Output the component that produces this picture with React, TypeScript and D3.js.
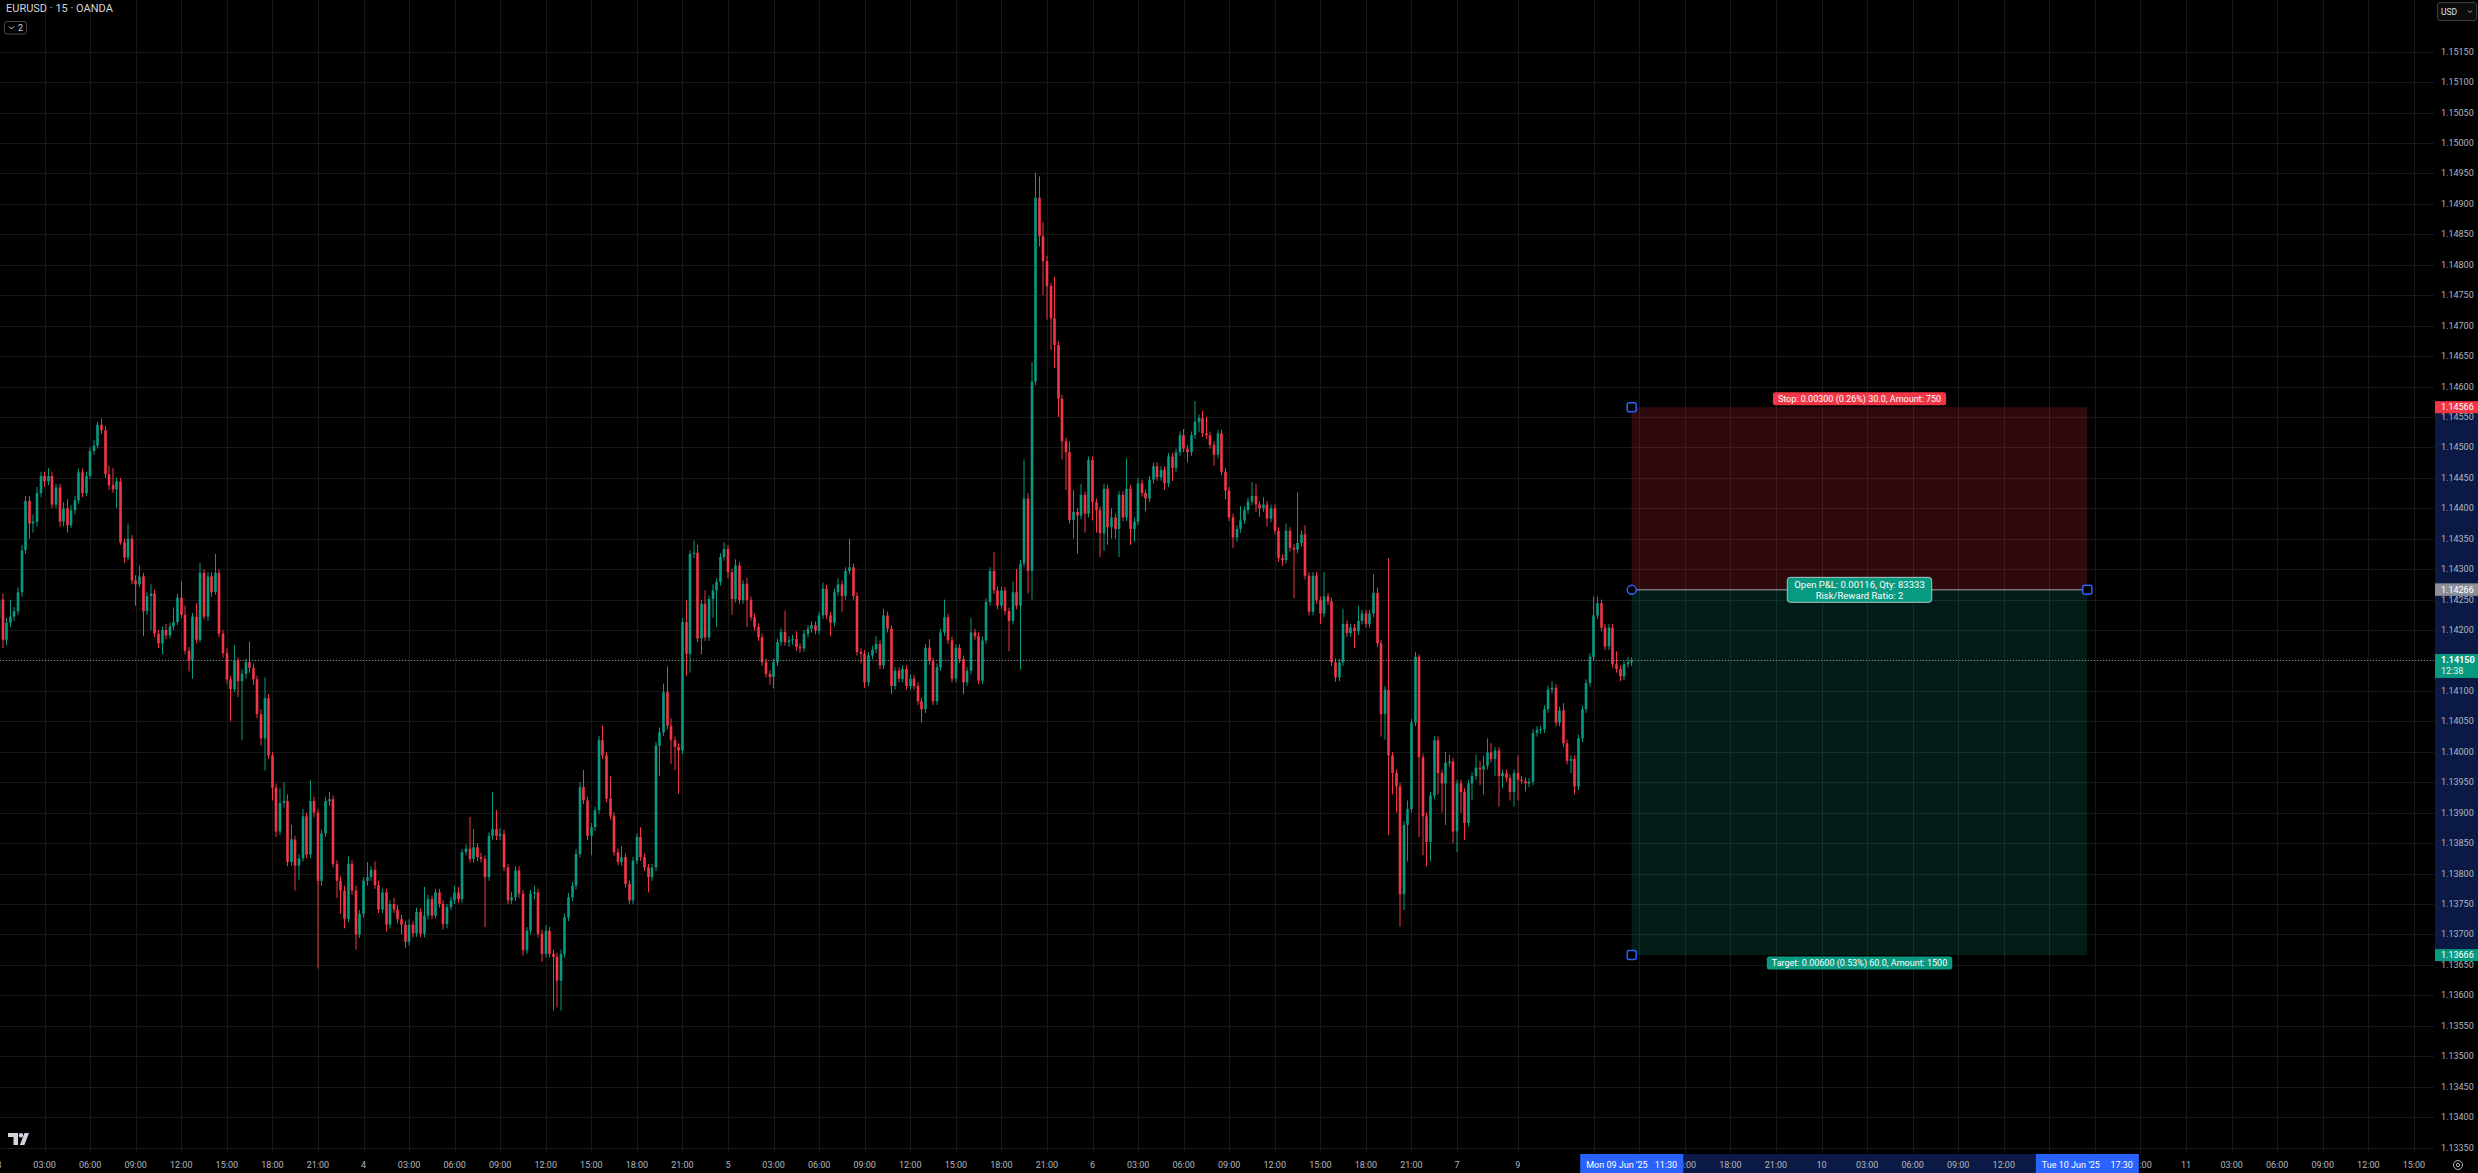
import React from "react";
import * as d3 from "d3";

// ---------- DATA ----------
const SYMBOL_TITLE = "EURUSD · 15 · OANDA";
const CURRENCY = "USD";

// Candles (15 min bars) from Tue 3 Jun 00:00. Values are in "pips": price = 1 + v / 10000
// rows are [open, high, low, close]
const CANDLES: number[][] = [
[1422,1425.5,1421,1425],[1425,1426,1417,1418.4],[1418.4,1422,1417.5,1421.2],[1421.2,1425,1420.5,1422.2],[1422.2,1423.8,1421.5,1423.1],
[1423.1,1427,1422.5,1426.2],[1426.2,1434,1425.5,1433.1],[1433.1,1442,1432.5,1441.2],[1441.2,1442,1435,1437.5],[1437.5,1439,1436,1437.8],
[1437.8,1443.5,1437,1442.5],[1442.5,1446,1441.8,1445.3],[1445.3,1446,1443.5,1444.4],[1444.4,1446.6,1443.8,1445.3],[1445.3,1446,1440,1440.6],
[1440.6,1444,1440,1443.4],[1443.4,1444,1437,1437.8],[1437.8,1441,1437,1440],[1440,1441.5,1436,1437.2],[1437.2,1440.5,1436.8,1439.7],
[1439.7,1442,1439,1441.3],[1441.3,1446.5,1440.8,1445.9],[1445.9,1446.5,1441.8,1442.5],[1442.5,1446,1442,1445.3],[1445.3,1450,1444.8,1449.4],
[1449.4,1451.2,1448.8,1450.3],[1450.3,1454.2,1449.8,1453.7],[1453.7,1454.7,1452.2,1452.8],[1452.8,1453.5,1445,1445.6],[1445.6,1447,1443,1443.8],
[1443.8,1446.6,1442.5,1443.1],[1443.1,1445,1440,1444.4],[1444.4,1445,1434,1434.4],[1434.4,1435,1431,1431.9],[1431.9,1437.5,1431.5,1435],
[1435,1435.6,1427.5,1428.1],[1428.1,1429,1424,1427.5],[1427.5,1430.6,1427,1428.8],[1428.8,1429.4,1419,1423.1],[1423.1,1426.2,1422.5,1425.6],
[1425.6,1427.5,1420,1426],[1426,1426.6,1418.8,1419.4],[1419.4,1420,1417,1417.8],[1417.8,1420.6,1416,1420],[1420,1421,1418.5,1419.1],
[1419.1,1421.2,1418.6,1420.6],[1420.6,1423.7,1420,1421.3],[1421.3,1426,1420.8,1425.3],[1425.3,1428.1,1422,1422.5],[1422.5,1424,1416,1416.6],
[1416.6,1417.2,1413.2,1415],[1415,1422.8,1412,1422.2],[1422.2,1424.4,1417.8,1418.4],[1418.4,1431,1418,1429.4],[1429.4,1430,1421.8,1422.2],
[1422.2,1429.5,1421.5,1428.8],[1428.8,1429.5,1425.5,1426.2],[1426.2,1432.5,1425.8,1429.4],[1429.4,1430,1418.8,1419.4],[1419.4,1420,1415.5,1416.2],
[1416.2,1417,1411.2,1411.9],[1411.9,1412.5,1405,1410.3],[1410.3,1417.5,1409.8,1415],[1415,1415.5,1409,1411.6],[1411.6,1413.5,1401.9,1412.8],
[1412.8,1415.3,1412,1414.7],[1414.7,1418.1,1413,1413.8],[1413.8,1414.5,1411,1411.9],[1411.9,1412.5,1405.5,1406.2],[1406.2,1407,1401,1402.2],
[1402.2,1412.2,1396.9,1408.8],[1408.8,1409.5,1398.8,1399.4],[1399.4,1400,1392,1394.1],[1394.1,1394.8,1386,1386.9],[1386.9,1394,1386.3,1391.6],
[1391.6,1395,1390.8,1391.9],[1391.9,1393,1381.2,1381.9],[1381.9,1388,1381.3,1385.6],[1385.6,1386.2,1377.2,1381.3],[1381.3,1383.2,1379,1382.5],
[1382.5,1390.6,1382,1389.4],[1389.4,1390,1382.5,1383.1],[1383.1,1395.3,1382.5,1391.9],[1391.9,1392.6,1389.2,1390],[1390,1390.6,1364.4,1378.8],
[1378.8,1387.2,1378,1386.6],[1386.6,1392.5,1386,1391.9],[1391.9,1393.4,1391.2,1392.2],[1392.2,1392.8,1381,1381.6],[1381.6,1382.2,1376,1378.8],
[1378.8,1379.5,1373.4,1377.2],[1377.2,1378,1371,1372.5],[1372.5,1382.8,1372,1381.6],[1381.6,1382.2,1376.5,1377.2],[1377.2,1378,1367.5,1370],
[1370,1374,1369.4,1373.4],[1373.4,1379.4,1372.8,1378.8],[1378.8,1381.9,1378,1379.4],[1379.4,1381.2,1378.8,1380.6],[1380.6,1382,1377.5,1378.1],
[1378.1,1378.8,1373.5,1374.1],[1374.1,1377.5,1373.5,1376.9],[1376.9,1377.5,1370.5,1371.6],[1371.6,1375.6,1371,1375],[1375,1376,1373.5,1374.1],
[1374.1,1374.8,1371.8,1372.5],[1372.5,1373.2,1370,1371.6],[1371.6,1372.2,1367.8,1368.8],[1368.8,1372.5,1368.2,1371.6],[1371.6,1372.2,1369.5,1370.2],
[1370.2,1374.4,1369.6,1373.7],[1373.7,1374.3,1369.5,1370.1],[1370.1,1377.8,1369.5,1373.1],[1373.1,1376.5,1372.5,1375.8],[1375.8,1376.4,1372.5,1373.1],
[1373.1,1377.5,1372.6,1376.9],[1376.9,1377.5,1374.4,1375],[1375,1375.6,1370.8,1371.7],[1371.7,1375,1371,1374.5],[1374.5,1376.2,1374,1375.6],
[1375.6,1378,1375,1376.9],[1376.9,1377.8,1375.2,1375.8],[1375.8,1384,1375.2,1383.5],[1383.5,1384.8,1383,1384.1],[1384.1,1389.3,1381.8,1382.4],
[1382.4,1387.3,1381.8,1384.3],[1384.3,1385,1382,1382.7],[1382.7,1383.4,1381.8,1382.4],[1382.4,1383,1371.2,1379.4],[1379.4,1386.8,1378.8,1386.2],
[1386.2,1393.4,1385.6,1387.3],[1387.3,1390.4,1385.5,1386.2],[1386.2,1387.4,1385.5,1386.5],[1386.5,1387.2,1380.4,1381],[1381,1381.6,1375,1375.6],
[1375.6,1377,1375,1376.1],[1376.1,1381.2,1375.5,1380.5],[1380.5,1381.2,1376,1376.7],[1376.7,1377.3,1366.5,1367.4],[1367.4,1371.2,1366.8,1370.6],
[1370.6,1377.3,1370,1376.7],[1376.7,1378,1375.8,1376.9],[1376.9,1377.5,1369.5,1370.1],[1370.1,1370.8,1365.5,1366.8],[1366.8,1371.5,1366.2,1370.6],
[1370.6,1371.2,1366.2,1366.8],[1366.8,1367.5,1357.5,1366.3],[1366.3,1367,1358,1362.4],[1362.4,1367.5,1357.5,1366.8],[1366.8,1373.4,1366.2,1372.8],
[1372.8,1376.8,1372.2,1376.1],[1376.1,1378.6,1375.5,1378],[1378,1384,1377.4,1383.2],[1383.2,1395,1382.6,1394.2],[1394.2,1397,1391.4,1392],
[1392,1392.6,1385.5,1386.2],[1386.2,1388.3,1383,1387.6],[1387.6,1391,1387,1390.4],[1390.4,1402.6,1389.8,1401.9],[1401.9,1404.3,1398.8,1399.4],
[1399.4,1400,1391.7,1392.3],[1392.3,1396,1388.9,1389.5],[1389.5,1390.1,1382.9,1383.5],[1383.5,1384.1,1381.3,1381.9],[1381.9,1384.5,1381.3,1382.7],
[1382.7,1383.3,1377.7,1378.3],[1378.3,1378.9,1375,1375.6],[1375.6,1382.7,1375,1382.1],[1382.1,1386.6,1381.5,1386],[1386,1387.6,1382.1,1382.7],
[1382.7,1383.3,1380.4,1381],[1381,1381.6,1376.9,1379.4],[1379.4,1381.6,1378.8,1381],[1381,1401.6,1380.4,1401],[1401,1404,1396,1403.2],
[1403.2,1411.2,1402.6,1409.8],[1409.8,1414,1403.7,1404.3],[1404.3,1405.5,1398,1401.9],[1401.9,1402.5,1397,1400.8],[1400.8,1401.4,1393.1,1400.2],
[1400.2,1422,1399.6,1421.3],[1421.3,1424.9,1412.5,1416.1],[1416.1,1433.1,1413,1432.5],[1432.5,1434.7,1431.8,1432.7],[1432.7,1434,1418,1418.6],
[1418.6,1425,1416,1424.3],[1424.3,1426.5,1418.2,1418.8],[1418.8,1425.7,1418.2,1425.1],[1425.1,1427.5,1422,1426.5],[1426.5,1428.5,1420.5,1427.9],
[1427.9,1432.6,1427.3,1432],[1432,1434.4,1431.4,1433.3],[1433.3,1433.9,1428.5,1429.5],[1429.5,1430.1,1422.5,1425.1],[1425.1,1431.6,1424.5,1430.6],
[1430.6,1431.2,1424.3,1424.9],[1424.9,1428.2,1424.3,1427.6],[1427.6,1428.6,1420.5,1424.9],[1424.9,1425.5,1421.5,1422.1],[1422.1,1422.7,1419.9,1420.5],
[1420.5,1421.1,1418.2,1418.8],[1418.8,1419.4,1414.1,1414.7],[1414.7,1415.3,1412.2,1412.8],[1412.8,1413.4,1411,1412.3],[1412.3,1415.3,1410.4,1414.7],
[1414.7,1418.6,1414.1,1418],[1418,1420.3,1417.4,1419.7],[1419.7,1423.2,1417.4,1418],[1418,1419,1417.2,1418.3],[1418.3,1419.2,1417.6,1418.5],
[1418.5,1419.8,1416.6,1417.2],[1417.2,1417.8,1416.3,1417],[1417,1420,1416.4,1419.4],[1419.4,1420.8,1418.8,1420.2],[1420.2,1421.4,1419.6,1420.8],
[1420.8,1421.4,1419.3,1419.9],[1419.9,1423,1419.3,1422.4],[1422.4,1427.8,1421.8,1426.8],[1426.8,1427.4,1421.8,1422.4],[1422.4,1423,1419,1421.2],
[1421.2,1426.8,1420.6,1426.2],[1426.2,1428.5,1425.6,1427.5],[1427.5,1428.1,1423,1425.6],[1425.6,1430.3,1425,1429.7],[1429.7,1435,1429.1,1430.3],
[1430.3,1430.9,1425,1425.6],[1425.6,1426.2,1415.8,1416.4],[1416.4,1417,1414.5,1416.1],[1416.1,1416.7,1410.5,1411.4],[1411.4,1416.4,1410.8,1415.8],
[1415.8,1417.4,1415.2,1416.8],[1416.8,1419,1416.2,1417.7],[1417.7,1418.3,1413.6,1414.2],[1414.2,1423.5,1413.6,1422.4],[1422.4,1423,1419.6,1420.2],
[1420.2,1420.8,1409.5,1410.8],[1410.8,1413.9,1410.2,1413.3],[1413.3,1413.9,1411.4,1412],[1412,1414.2,1411.4,1413.6],[1413.6,1414.2,1410.2,1410.8],
[1410.8,1412.6,1410.2,1412],[1412,1412.6,1410.2,1410.8],[1410.8,1411.4,1407.7,1408.3],[1408.3,1408.9,1404.8,1407],[1407,1417.7,1406.4,1417.1],
[1417.1,1418.5,1414.3,1414.9],[1414.9,1415.5,1407.7,1408.3],[1408.3,1414.5,1407.7,1413.9],[1413.9,1420.2,1413.3,1419.6],[1419.6,1425,1419,1422.1],
[1422.1,1422.7,1417.7,1418.3],[1418.3,1418.9,1411.4,1412],[1412,1417.7,1411.4,1417.1],[1417.1,1417.7,1414.6,1415.2],[1415.2,1415.8,1409.5,1411.4],
[1411.4,1413.9,1410.8,1413.3],[1413.3,1422,1412.7,1419.6],[1419.6,1420.2,1418.4,1419],[1419,1419.6,1411.1,1411.7],[1411.7,1418.9,1411.1,1418.3],
[1418.3,1425.2,1417.7,1424.6],[1424.6,1430.3,1424,1429.7],[1429.7,1432.8,1425.9,1426.5],[1426.5,1427.1,1423.4,1424],[1424,1427.1,1423.4,1426.5],
[1426.5,1427.1,1422.5,1423.1],[1423.1,1423.7,1416.5,1421.5],[1421.5,1428,1420.9,1426.2],[1426.2,1430,1423.4,1424],[1424,1431.5,1413.5,1430.9],
[1430.9,1448,1430.3,1441.6],[1441.6,1442.5,1426,1429.7],[1429.7,1464,1425,1460.8],[1460.8,1495.1,1460.2,1491],[1491,1494.5,1483,1484.7],
[1484.7,1487,1475,1480.6],[1480.6,1481.5,1471,1476.5],[1476.5,1477,1466,1471.2],[1471.2,1478,1463,1466.8],[1466.8,1467.4,1455,1458],
[1458,1458.6,1448,1451],[1451,1451.6,1443,1449.2],[1449.2,1451,1437.5,1438.1],[1438.1,1443,1435,1439.4],[1439.4,1440,1432.5,1438.8],
[1438.8,1444,1438.2,1442.2],[1442.2,1442.8,1436,1439.1],[1439.1,1448.5,1438.5,1447.9],[1447.9,1448.5,1438,1441],[1441,1441.6,1436,1439.7],
[1439.7,1440.3,1432,1435.9],[1435.9,1444,1433,1443.2],[1443.2,1443.8,1434,1436.9],[1436.9,1440,1435,1438.5],[1438.5,1439.1,1435,1436.6],
[1436.6,1442.8,1432,1442.2],[1442.2,1442.8,1437.9,1438.5],[1438.5,1448.2,1437.9,1443.2],[1443.2,1443.8,1434,1436.6],[1436.6,1438.5,1434.5,1437.8],
[1437.8,1445,1437.2,1444.1],[1444.1,1444.7,1441.9,1442.5],[1442.5,1443.1,1439.5,1441.6],[1441.6,1445.3,1441,1444.7],[1444.7,1447.5,1444.1,1446.9],
[1446.9,1447.5,1444.5,1445.1],[1445.1,1446.9,1444.5,1446.3],[1446.3,1446.9,1443,1444.1],[1444.1,1449.1,1443.5,1448.5],[1448.5,1449.1,1444.5,1446.6],
[1446.6,1449.8,1446,1449.2],[1449.2,1452.6,1448.6,1452],[1452,1453,1449.2,1449.8],[1449.8,1450.4,1447.5,1449.2],[1449.2,1452.6,1448.6,1452],
[1452,1457.6,1451.4,1454.2],[1454.2,1455.4,1452.5,1454.8],[1454.8,1456,1451.7,1452.3],[1452.3,1455,1451.4,1452],[1452,1452.6,1449.8,1450.4],
[1450.4,1451,1447,1448.8],[1448.8,1452.9,1448.2,1452.3],[1452.3,1452.9,1445.4,1446],[1446,1446.6,1441.5,1442.9],[1442.9,1443.5,1437.9,1438.5],
[1438.5,1439.1,1433.5,1435.2],[1435.2,1437.2,1434.5,1436.6],[1436.6,1440.3,1436,1438],[1438,1440.3,1437.4,1439.7],[1439.7,1441.7,1439.1,1441.1],
[1441.1,1444.3,1440.5,1442],[1442,1444,1439.4,1440.6],[1440.6,1441.2,1438.6,1440],[1440,1441.8,1439.4,1440.6],[1440.6,1441.2,1437,1438.3],
[1438.3,1440.6,1437.7,1440],[1440,1440.6,1435.7,1436.3],[1436.3,1436.9,1431.2,1431.8],[1431.8,1432.4,1430.5,1431.5],[1431.5,1437.5,1430.9,1436.3],
[1436.3,1436.9,1432.9,1433.5],[1433.5,1434.1,1425.2,1433.2],[1433.2,1442.6,1432.6,1434.3],[1434.3,1436.3,1433.7,1435.7],[1435.7,1437.2,1428.3,1428.9],
[1428.9,1429.5,1422.4,1423],[1423,1429.5,1422.4,1428.9],[1428.9,1429.5,1424.3,1424.9],[1424.9,1425.5,1421,1422.7],[1422.7,1429.5,1422.1,1425.5],
[1425.5,1426.1,1424.1,1424.7],[1424.7,1425.3,1414.1,1414.7],[1414.7,1415.3,1411.5,1412.2],[1412.2,1415.3,1411.6,1414.7],[1414.7,1423.5,1414.1,1421],
[1421,1421.6,1418.9,1419.5],[1419.5,1421,1418.9,1420.4],[1420.4,1421,1417,1419.8],[1419.8,1424,1419.2,1421.5],[1421.5,1423.3,1420.9,1422.7],
[1422.7,1423.3,1420.4,1421],[1421,1423.3,1420.4,1422.7],[1422.7,1429.2,1422.1,1426.1],[1426.1,1427,1417.2,1417.8],[1417.8,1418.4,1402.5,1406.2],
[1406.2,1410.8,1402,1410.2],[1410.2,1431.8,1386.3,1399.4],[1399.4,1400,1393,1396.5],[1396.5,1397.1,1390,1394.3],[1394.3,1394.9,1371.3,1376.6],
[1376.6,1388.6,1374,1388],[1388,1392,1382,1390.6],[1390.6,1405.4,1390,1404.8],[1404.8,1416.4,1404.2,1415.6],[1415.6,1416,1386,1399.1],
[1399.1,1399.7,1383,1389.4],[1389.4,1390,1381.2,1385.2],[1385.2,1393.4,1382,1392.8],[1392.8,1402.5,1392.2,1401.9],[1401.9,1402.5,1393,1396.5],
[1396.5,1397.1,1390,1394.8],[1394.8,1400,1388,1398.2],[1398.2,1399.5,1397.6,1398.4],[1398.4,1399,1385,1386.9],[1386.9,1395.4,1383.5,1394.8],
[1394.8,1395.4,1390,1393.4],[1393.4,1394,1385.5,1388.3],[1388.3,1395.4,1387.7,1394.8],[1394.8,1396.6,1392,1396],[1396,1399.5,1395.4,1397.4],
[1397.4,1398.5,1394.5,1397.1],[1397.1,1399.4,1393,1397.7],[1397.7,1402.2,1397.1,1399.9],[1399.9,1401.4,1398.2,1398.8],[1398.8,1400.8,1396,1400.2],
[1400.2,1400.8,1391,1396],[1396,1397.1,1394,1396.5],[1396.5,1397.1,1395.1,1395.7],[1395.7,1396.3,1392,1393.4],[1393.4,1397.1,1391,1396.5],
[1396.5,1399.4,1392,1395.4],[1395.4,1396,1394.8,1395.2],[1395.2,1395.8,1393.5,1394.8],[1394.8,1395.7,1394.2,1395.1],[1395.1,1403.7,1394.5,1403.1],
[1403.1,1404.2,1402.5,1403.6],[1403.6,1404.3,1403,1403.7],[1403.7,1407.6,1403.1,1407],[1407,1410.8,1406.4,1410.2],[1410.2,1411.6,1409.6,1410.5],
[1410.5,1411.1,1404.2,1404.8],[1404.8,1407.4,1404.2,1406.8],[1406.8,1408,1400.8,1401.4],[1401.4,1402,1397.9,1398.5],[1398.5,1399.4,1396.5,1398.8],
[1398.8,1399.4,1393,1394.3],[1394.3,1402.8,1393.7,1402.2],[1402.2,1407.6,1401.6,1407],[1407,1411.9,1406.4,1411.3],[1411.3,1416.2,1410.7,1415.6],
[1415.6,1425.5,1415,1422.4],[1422.4,1425.5,1421.8,1424.4],[1424.4,1425,1419.8,1420.4],[1420.4,1421,1416.7,1417.3],[1417.3,1421,1416.7,1420.4],
[1420.4,1421,1413.8,1414.4],[1414.4,1416.5,1413,1413.6],[1413.6,1414.2,1411.6,1412.4],[1412.4,1415,1411.8,1414.4],[1414.4,1415.6,1413.8,1414.7],
[1414.7,1415.5,1414.1,1415]
];

const PRICE_TICKS = [
  1.1335, 1.134, 1.1345, 1.135, 1.1355, 1.136, 1.1365, 1.137, 1.1375, 1.138, 1.1385, 1.139, 1.1395,
  1.14, 1.1405, 1.141, 1.1415, 1.142, 1.1425, 1.143, 1.1435, 1.144, 1.1445, 1.145, 1.1455, 1.146,
  1.1465, 1.147, 1.1475, 1.148, 1.1485, 1.149, 1.1495, 1.15, 1.1505, 1.151, 1.1515,
];

// [bar index, label]
const TIME_TICKS: [number, string][] = [
  [0, "3"], [12, "03:00"], [24, "06:00"], [36, "09:00"], [48, "12:00"], [60, "15:00"], [72, "18:00"], [84, "21:00"],
  [96, "4"], [108, "03:00"], [120, "06:00"], [132, "09:00"], [144, "12:00"], [156, "15:00"], [168, "18:00"], [180, "21:00"],
  [192, "5"], [204, "03:00"], [216, "06:00"], [228, "09:00"], [240, "12:00"], [252, "15:00"], [264, "18:00"], [276, "21:00"],
  [288, "6"], [300, "03:00"], [312, "06:00"], [324, "09:00"], [336, "12:00"], [348, "15:00"], [360, "18:00"], [372, "21:00"],
  [384, "7"], [400, "9"], [420, "09:00"], [432, "12:00"], [444, "15:00"], [456, "18:00"], [468, "21:00"],
  [480, "10"], [492, "03:00"], [504, "06:00"], [516, "09:00"], [528, "12:00"], [540, "15:00"], [552, "18:00"], [564, "21:00"],
  [576, "11"], [588, "03:00"], [600, "06:00"], [612, "09:00"], [624, "12:00"], [636, "15:00"],
];

const LAST_PRICE = 1.1415;
const COUNTDOWN = "12:38";

const POSITION_START_BAR = 430;
const POSITION_END_BAR = 550;
const ENTRY_PRICE = 1.14266;
const STOP_PRICE = 1.14566;
const TARGET_PRICE = 1.13666;
const STOP_TEXT = "Stop: 0.00300 (0.26%) 30.0, Amount: 750";
const PNL_TEXT = "Open P&L: 0.00116, Qty: 83333";
const RR_TEXT = "Risk/Reward Ratio: 2";
const TARGET_TEXT = "Target: 0.00600 (0.53%) 60.0, Amount: 1500";
const DATE_MARKERS: [number, string, string][] = [
  [POSITION_START_BAR, "Mon 09 Jun '25", "11:30"],
  [POSITION_END_BAR, "Tue 10 Jun '25", "17:30"],
];

// ---------- LAYOUT / STYLE ----------
const W = 2478;
const H = 1173;
const PANE_RIGHT = 2434;
const TIME_TOP = 1153;
const BG = "#000000";
const GRID = "#181818";
const TEXT = "#b2b5be";
const UP = "#089981";
const DOWN = "#f23645";
const BLUE = "#2962ff";
const NAVY = "#0b1a44";
const FONT = "Roboto, 'Noto Sans', sans-serif";
const DATE_BOX_W = 103;

const toPrice = (v: number) => 1 + v / 10000;

function measure(txt: string, size: number, weight = "normal") {
  try {
    const ctx = document.createElement("canvas").getContext("2d")!;
    ctx.font = `${weight} ${size}px Roboto`;
    return ctx.measureText(txt).width;
  } catch {
    return txt.length * size * 0.5;
  }
}

export default function App() {
  const x = d3.scaleLinear().domain([0, POSITION_START_BAR]).range([-1, 1631.7]);
  const y = d3.scaleLinear().domain([1.146, 1.1335]).range([386.5, 1147.5]);
  const fmt = d3.format(".5f");

  const bodyW = 2.6;
  const yStop = y(STOP_PRICE);
  const yEntry = y(ENTRY_PRICE);
  const yTarget = y(TARGET_PRICE);
  const xs = x(POSITION_START_BAR);
  const xe = x(POSITION_END_BAR);
  const xm = (xs + xe) / 2;
  const yLast = y(LAST_PRICE);

  const stopW = measure(STOP_TEXT, 9) + 10;
  const targetW = measure(TARGET_TEXT, 9) + 10;
  const midW = Math.max(measure(PNL_TEXT, 9.5), measure(RR_TEXT, 9.5)) + 14;

  // date boxes on the time axis
  const boxes = DATE_MARKERS.map(([b]) => [x(b) - DATE_BOX_W / 2, x(b) + DATE_BOX_W / 2]);
  const freeRanges: number[][] = [
    [0, boxes[0][0]],
    [boxes[0][1], boxes[1][0]],
    [boxes[1][1], PANE_RIGHT],
  ];
  const labelW = (t: string) => measure(t, 9);
  const visibleTicks = TIME_TICKS.filter(([b, t]) => {
    const cx = x(b);
    const hw = labelW(t) / 2;
    return !boxes.some(([l, r]) => cx - hw >= l - 1 && cx + hw <= r + 1);
  });

  const handle = (cx: number, cy: number, key: string) => (
    <rect key={key} x={cx - 4.5} y={cy - 4.5} width={9} height={9} rx={2} fill={BG} stroke={BLUE} strokeWidth={1.5} />
  );

  return (
    <svg
      width={W}
      height={H}
      style={{ position: "absolute", left: 0, top: 0, display: "block" }}
      fontFamily={FONT}
    >
      <defs>
        <clipPath id="pane">
          <rect x={0} y={0} width={PANE_RIGHT} height={TIME_TOP} />
        </clipPath>
        <clipPath id="timefree">
          {freeRanges.map(([l, r], i) => (
            <rect key={i} x={l} y={TIME_TOP} width={Math.max(0, r - l)} height={H - TIME_TOP} />
          ))}
        </clipPath>
      </defs>
      <rect x={0} y={0} width={W} height={H} fill={BG} />

      <g clipPath="url(#pane)">
        {/* grid */}
        {PRICE_TICKS.map((p) => (
          <line key={"h" + p} x1={0} x2={PANE_RIGHT} y1={Math.round(y(p)) + 0.5} y2={Math.round(y(p)) + 0.5} stroke={GRID} />
        ))}
        {TIME_TICKS.map(([b]) => (
          <line key={"v" + b} x1={Math.round(x(b)) + 0.5} x2={Math.round(x(b)) + 0.5} y1={0} y2={TIME_TOP} stroke={GRID} />
        ))}

        {/* position tool areas */}
        <rect x={xs} y={yStop} width={xe - xs} height={yEntry - yStop} fill="rgba(242,54,69,0.19)" />
        <rect x={xs} y={yEntry} width={xe - xs} height={yTarget - yEntry} fill="rgba(8,153,129,0.19)" />

        {/* candles */}
        {CANDLES.map((c, i) => {
          const [o, h, l, cl] = c.map(toPrice);
          const col = cl >= o ? UP : DOWN;
          const cx = Math.round(x(i) * 2) / 2;
          const top = y(Math.max(o, cl));
          const bot = y(Math.min(o, cl));
          return (
            <g key={i}>
              <line x1={cx} x2={cx} y1={y(h)} y2={y(l)} stroke={col} strokeWidth={1} />
              <rect x={cx - bodyW / 2} y={top} width={bodyW} height={Math.max(1, bot - top)} fill={col} />
            </g>
          );
        })}

        {/* last price line */}
        <line x1={0} x2={PANE_RIGHT} y1={Math.round(yLast) + 0.5} y2={Math.round(yLast) + 0.5} stroke="#9aa3a8" strokeDasharray="1 2" strokeOpacity={0.8} />

        {/* entry line */}
        <line x1={xs} x2={xe} y1={yEntry} y2={yEntry} stroke="#a3a6af" strokeWidth={1} />

        {/* stop label */}
        <rect x={xm - stopW / 2} y={yStop - 15} width={stopW} height={13} rx={2.5} fill={DOWN} />
        <text x={xm} y={yStop - 8.3} fill="#fff" fontSize={9} textAnchor="middle" dominantBaseline="central">
          {STOP_TEXT}
        </text>

        {/* target label */}
        <rect x={xm - targetW / 2} y={yTarget + 1.5} width={targetW} height={13} rx={2.5} fill={UP} />
        <text x={xm} y={yTarget + 8.2} fill="#fff" fontSize={9} textAnchor="middle" dominantBaseline="central">
          {TARGET_TEXT}
        </text>

        {/* mid label */}
        <rect x={xm - midW / 2} y={yEntry - 12.5} width={midW} height={25} rx={3} fill={UP} stroke="#d9dde4" strokeWidth={0.8} />
        <text x={xm} y={yEntry - 5.5} fill="#fff" fontSize={9.5} textAnchor="middle" dominantBaseline="central">
          {PNL_TEXT}
        </text>
        <text x={xm} y={yEntry + 5.5} fill="#fff" fontSize={9.5} textAnchor="middle" dominantBaseline="central">
          {RR_TEXT}
        </text>

        {/* handles */}
        {handle(xs, yStop, "hs")}
        <circle cx={xs} cy={yEntry} r={4.5} fill={BG} stroke={BLUE} strokeWidth={1.5} />
        {handle(xe, yEntry, "he")}
        {handle(xs, yTarget, "ht")}
      </g>

      {/* ---------- price axis ---------- */}
      <rect x={PANE_RIGHT + 1} y={yStop} width={W - PANE_RIGHT - 1} height={yTarget - yStop} fill={NAVY} />
      {PRICE_TICKS.map((p) => (
        <text key={"pl" + p} x={2441} y={y(p)} fill={TEXT} fontSize={9} dominantBaseline="central">
          {fmt(p)}
        </text>
      ))}
      {/* stop tag */}
      <rect x={PANE_RIGHT + 1} y={yStop - 6} width={W - PANE_RIGHT - 1} height={12} fill={DOWN} />
      <text x={2441} y={yStop} fill="#fff" fontSize={9} dominantBaseline="central">{fmt(STOP_PRICE)}</text>
      {/* entry tag */}
      <rect x={PANE_RIGHT + 1} y={yEntry - 6.5} width={W - PANE_RIGHT - 1} height={12.5} fill="#8c8f99" />
      <text x={2441} y={yEntry} fill="#fff" fontSize={9} dominantBaseline="central">{fmt(ENTRY_PRICE)}</text>
      {/* last price tag */}
      <rect x={PANE_RIGHT + 1} y={yLast - 6.5} width={W - PANE_RIGHT - 1} height={24} fill={UP} />
      <text x={2441} y={yLast} fill="#fff" fontSize={9} fontWeight="bold" dominantBaseline="central">{fmt(LAST_PRICE)}</text>
      <text x={2441} y={yLast + 10.5} fill="#e6f5f1" fontSize={9} dominantBaseline="central">{COUNTDOWN}</text>
      {/* target tag */}
      <rect x={PANE_RIGHT + 1} y={yTarget - 6} width={W - PANE_RIGHT - 1} height={12} fill={UP} />
      <text x={2441} y={yTarget} fill="#fff" fontSize={9} dominantBaseline="central">{fmt(TARGET_PRICE)}</text>

      {/* ---------- time axis ---------- */}
      <rect x={xs} y={TIME_TOP + 1} width={xe - xs} height={H - TIME_TOP - 1} fill={NAVY} />
      <g clipPath="url(#timefree)">
        {visibleTicks.map(([b, t]) => (
          <text key={"tl" + b} x={x(b)} y={1165} fill={TEXT} fontSize={9} textAnchor="middle" dominantBaseline="central">
            {t}
          </text>
        ))}
      </g>
      {DATE_MARKERS.map(([b, d, t]) => (
        <g key={"dm" + b}>
          <rect x={x(b) - DATE_BOX_W / 2} y={TIME_TOP + 1} width={DATE_BOX_W} height={H - TIME_TOP - 1} fill={BLUE} />
          <text x={x(b) - DATE_BOX_W / 2 + 6} y={1165} fill="#fff" fontSize={9} dominantBaseline="central">
            {d}
          </text>
          <text x={x(b) + DATE_BOX_W / 2 - 6} y={1165} fill="#fff" fontSize={9} textAnchor="end" dominantBaseline="central">
            {t}
          </text>
        </g>
      ))}

      {/* ---------- header ---------- */}
      <text x={6} y={8} fill="#d1d4dc" fontSize={11} dominantBaseline="central">{SYMBOL_TITLE}</text>
      <rect x={4.5} y={21.5} width={22} height={12.5} rx={2.5} fill="none" stroke="#434651" />
      <path d="M9,26.5 l2.5,2.5 l2.5,-2.5" fill="none" stroke="#d1d4dc" strokeWidth={1} />
      <text x={18} y={28} fill="#d1d4dc" fontSize={9} dominantBaseline="central">2</text>

      {/* currency button */}
      <rect x={2437.5} y={2.5} width={39} height={18} rx={2.5} fill="#0c0c0c" stroke="#3a3d46" />
      <text x={2441} y={11.5} fill="#e0e3eb" fontSize={8.5} dominantBaseline="central">{CURRENCY}</text>
      <path d="M2468,10.5 l2,2 l2,-2" fill="none" stroke="#b2b5be" strokeWidth={0.9} />

      {/* settings gear */}
      <circle cx={2458} cy={1165} r={4.5} fill="none" stroke={TEXT} strokeWidth={1} />
      <circle cx={2458} cy={1165} r={1.6} fill="none" stroke={TEXT} strokeWidth={1} />

      {/* logo */}
      <g fill="#d1d4dc">
        <path d="M8,1133 h10 v12 h-4.5 v-8 h-5.5 z" />
        <circle cx={21} cy={1135.2} r={2.2} />
        <path d="M24.5,1133 h4.5 l-4.6,12 h-4.5 z" />
      </g>
    </svg>
  );
}
